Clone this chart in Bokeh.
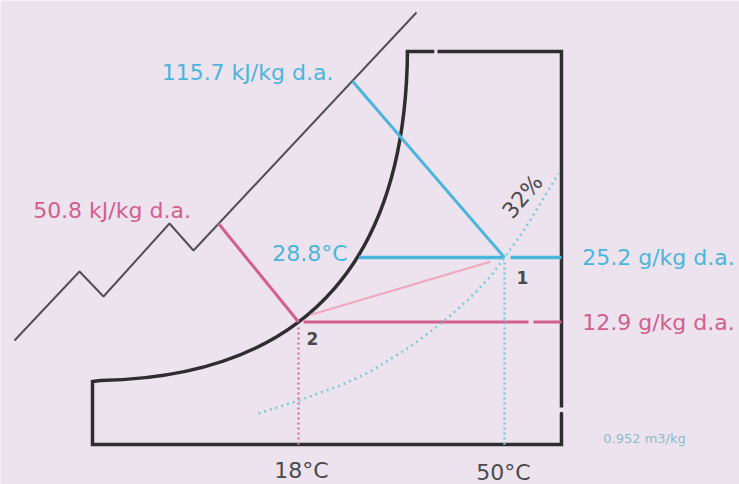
from bokeh.plotting import figure
from bokeh.models import Range1d
from bokeh.core.properties import value
from bokeh.embed import file_html
from bokeh.resources import INLINE

# ---- process data (psychrometric states) ----
dry_bulb = [18, 50]            # °C : state 2, state 1
humidity = [12.9, 25.2]        # g/kg d.a.
enthalpy = [50.8, 115.7]       # kJ/kg d.a.
dew_point = 28.8               # °C
rel_humidity = 32              # %
spec_volume = 0.952            # m3/kg
state_names = ["2", "1"]

# ---- schematic chart geometry (x = °C, y = g/kg, sketch scale) ----
# saturation curve drawn as one cubic Bezier: start, control 0, control 1, end
sat_start = (-12.76, 1.74)
sat_ctrl0 = (20.64, 2.51)
sat_ctrl1 = (34.62, 26.53)
sat_end = (34.93, 64.48)
frame_T_right = 58.85
frame_T_left = -14.0
frame_W_top = 64.48
frame_W_bottom = -10.46
frame_W_curve_foot = 1.55
frame_top_gap = [38.82, 39.59]
frame_right_gap = [-3.40, -4.55]
scale_T = [-26.12, -16.02, -12.29, -2.04, 1.69, 36.33]
scale_W = [9.37, 22.53, 17.76, 31.68, 26.53, 71.92]
enth_start_T = [5.57, 26.39]
enth_start_W = [31.68, 58.80]
rh_T = [11.79, 18.0, 24.52, 29.18, 35.40, 40.37, 44.72, 47.83, 50.0, 52.80, 55.59, 58.39]
rh_W = [-4.55, -2.07, 0.79, 3.46, 8.23, 12.80, 17.57, 21.58, 25.20, 29.97, 35.50, 41.22]

BG = "#ece3ef"
BLUE = "#4ab6dc"
PINK = "#d35f8c"
LPINK = "#f0a8ba"
DOTBLUE = "#7ccad9"
DOTPINK = "#d77a9d"
FRAME = "#2e2e2e"
GRAY = "#515151"
DARK = "#4a4a4a"
FONT = value("DejaVu Sans")

p = figure(width=739, height=484, output_backend="svg", toolbar_location=None,
           x_range=Range1d(-28.291, 86.505), y_range=Range1d(-18.088, 74.208),
           min_border=0, background_fill_color=BG, border_fill_color=BG)
p.axis.visible = False
p.grid.visible = False
p.outline_line_color = None

# chart frame
p.line([frame_top_gap[1], frame_T_right, frame_T_right],
       [frame_W_top, frame_W_top, frame_right_gap[0]],
       line_color=FRAME, line_width=3.5, line_join="miter")
p.line([frame_T_right, frame_T_right, frame_T_left, frame_T_left, sat_start[0]],
       [frame_right_gap[1], frame_W_bottom, frame_W_bottom, frame_W_curve_foot, sat_start[1]],
       line_color=FRAME, line_width=3.5, line_join="miter", line_cap="round")
p.line([sat_end[0], frame_top_gap[0]], [frame_W_top, frame_W_top],
       line_color=FRAME, line_width=3.5, line_cap="square")
# saturation curve
p.bezier(x0=[sat_start[0]], y0=[sat_start[1]], x1=[sat_end[0]], y1=[sat_end[1]],
         cx0=[sat_ctrl0[0]], cy0=[sat_ctrl0[1]], cx1=[sat_ctrl1[0]], cy1=[sat_ctrl1[1]],
         line_color=FRAME, line_width=3.5)

# enthalpy scale edge
p.line(scale_T, scale_W, line_color=GRAY, line_width=2)

# enthalpy lines
p.line([enth_start_T[1], dry_bulb[1]], [enth_start_W[1], humidity[1]],
       line_color=BLUE, line_width=3)
p.line([enth_start_T[0], dry_bulb[0]], [enth_start_W[0], humidity[0]],
       line_color=PINK, line_width=3)

# humidity lines
p.line([27.4, dry_bulb[1]], [humidity[1], humidity[1]], line_color=BLUE, line_width=3.5)
p.line([50.93, frame_T_right], [humidity[1], humidity[1]], line_color=BLUE, line_width=3.5)
p.line([18.8, 53.73], [humidity[0], humidity[0]], line_color=PINK, line_width=3)
p.line([54.50, frame_T_right], [humidity[0], humidity[0]], line_color=PINK, line_width=3)

# process line 2 -> 1
fr0, fr1 = 0.06, 0.93
mx = [dry_bulb[0] + fr * (dry_bulb[1] - dry_bulb[0]) for fr in (fr0, fr1)]
my = [humidity[0] + 0.7 + fr * (humidity[1] - humidity[0] - 0.7) for fr in (fr0, fr1)]
p.line(mx, my, line_color=LPINK, line_width=2)

# relative humidity curve
p.line(rh_T, rh_W, line_color=DOTBLUE, line_width=2.5, line_dash="2 4")

# dry bulb dotted verticals
p.line([dry_bulb[0], dry_bulb[0]], [11.85, frame_W_bottom], line_color=DOTPINK,
       line_width=2.5, line_dash="2 3")
p.line([dry_bulb[1], dry_bulb[1]], [24.25, frame_W_bottom], line_color=DOTBLUE,
       line_width=2.5, line_dash="2 3")

# ---- labels ----
def lab(x, y, t, color, size="22px", align="center", angle=0.0, style="normal"):
    p.text([x], [y], text=[t], text_color=color, text_font=FONT,
           text_font_size=size, text_align=align, text_baseline="middle",
           angle=angle, text_font_style=style)

lab(10.08, 60.48, f"{enthalpy[1]} kJ/kg d.a.", BLUE)
lab(-10.97, 34.16, f"{enthalpy[0]} kJ/kg d.a.", PINK)
lab(19.79, 25.96, f"{dew_point}°C", BLUE)
lab(73.92, humidity[1], f"{humidity[1]} g/kg d.a.", BLUE)
lab(73.92, humidity[0] - 0.1, f"{humidity[0]} g/kg d.a.", PINK)
lab(52.80, 21.39, state_names[1], DARK, size="17px", style="bold")
lab(20.17, 9.75, state_names[0], DARK, size="17px", style="bold")
lab(18.47, -15.42, f"{dry_bulb[0]}°C", DARK)
lab(49.84, -15.80, f"{dry_bulb[1]}°C", DARK)
lab(52.80, 36.83, f"{rel_humidity}%", DARK, angle=0.87)
lab(71.75, -9.32, f"{spec_volume} m3/kg", "#8cbccb", size="13px")

html = file_html(p, INLINE)
html = html.replace("<body>", '<body style="background:%s">' % BG, 1)
open("out.html", "w").write(html)
